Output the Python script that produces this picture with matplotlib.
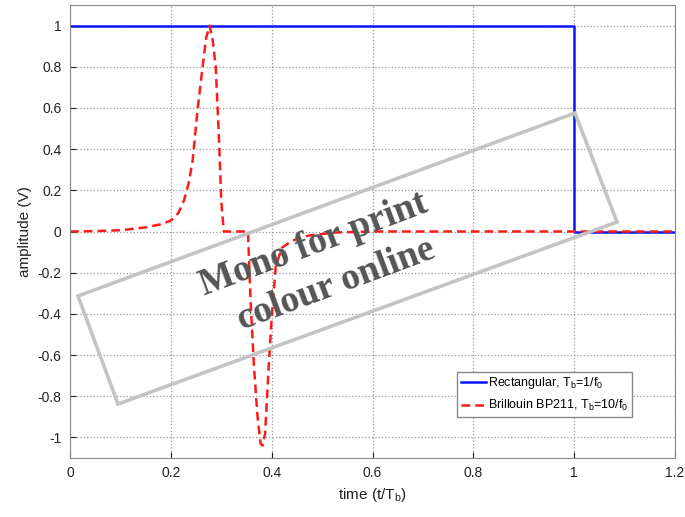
import numpy as np
import matplotlib.pyplot as plt
from matplotlib.patches import Polygon

plt.rcParams['font.family'] = ['Liberation Sans', 'DejaVu Sans']
plt.rcParams['mathtext.fontset'] = 'custom'
plt.rcParams['mathtext.rm'] = 'Liberation Sans'
plt.rcParams['mathtext.it'] = 'Liberation Sans:italic'

# rectangular pulse
rect_t = [0.0, 1.0, 1.0, 1.2]
rect_a = [1.0, 1.0, 0.0, 0.0]

# Brillouin BP211 pulse
bri_t = [0.0, 0.05, 0.10, 0.15, 0.18, 0.20, 0.215, 0.226, 0.235, 0.243, 0.253,
         0.263, 0.270, 0.277, 0.283, 0.289, 0.295, 0.300, 0.305, 0.353, 0.358,
         0.365, 0.372, 0.378, 0.382, 0.387, 0.394, 0.400, 0.408, 0.420, 0.440,
         0.473, 0.525, 0.60, 1.2]
bri_a = [0.0, 0.002, 0.006, 0.02, 0.035, 0.053, 0.09, 0.15, 0.23, 0.34, 0.59,
         0.80, 0.94, 1.0, 0.93, 0.80, 0.48, 0.15, 0.0, 0.0, -0.33,
         -0.66, -0.90, -1.03, -1.04, -0.98, -0.66, -0.42, -0.17, -0.08, -0.045,
         -0.02, -0.005, 0.0, 0.0]

xticks = [0, 0.2, 0.4, 0.6, 0.8, 1, 1.2]
xtick_labels = ['0', '0.2', '0.4', '0.6', '0.8', '1', '1.2']
yticks = [1, 0.8, 0.6, 0.4, 0.2, 0, -0.2, -0.4, -0.6, -0.8, -1]
ytick_labels = ['1', '0.8', '0.6', '0.4', '0.2', '0', '-0.2', '-0.4', '-0.6', '-0.8', '-1']

fig = plt.figure(figsize=(6.85, 5.17), dpi=100)
ax = fig.add_axes([70 / 685, 1 - 458 / 517, 605 / 685, 453 / 517])

ax.plot(rect_t, rect_a, color='#0a14ff', lw=1.8, label=r'Rectangular, T$_{\rm b}$=1/f$_{\rm 0}$')
ax.plot(bri_t, bri_a, color='#ff1a1a', lw=1.8, ls=(0, (3.5, 2)),
        label=r'Brillouin BP211, T$_{\rm b}$=10/f$_{\rm 0}$')

ax.set_xlim(0, 1.2)
ax.set_ylim(-1.1, 1.1)
ax.set_xticks(xticks)
ax.set_xticklabels(xtick_labels)
ax.set_yticks(yticks)
ax.set_yticklabels(ytick_labels)
ax.tick_params(direction='in', labelsize=10, colors='#222222', length=4, pad=6)
ax.grid(True, ls=':', color='#999999', lw=0.9)
for s in ax.spines.values():
    s.set_color('#888888')

ax.set_xlabel(r'time (t/T$_{\rm b}$)', fontsize=11, color='#222222')
ax.set_ylabel('amplitude (V)', fontsize=11, color='#222222')

leg = ax.legend(loc='lower right', bbox_to_anchor=(0.929, 0.0905), fontsize=9,
                fancybox=False, edgecolor='#888888', framealpha=1,
                handlelength=2.0, handletextpad=0.2, borderpad=0.3,
                labelspacing=0.55, borderaxespad=0)
leg.get_frame().set_linewidth(1.0)

# "Mono for print / colour online" stamp
W, H = 685.0, 517.0
corners = [(78, 296), (575, 113), (617, 222), (118, 404)]
poly = Polygon([(x / W, 1 - y / H) for x, y in corners], closed=True, fill=False,
               edgecolor='#c4c4c4', lw=2.6, transform=fig.transFigure)
fig.add_artist(poly)
fig.text(314 / W, 1 - 244 / H, 'Mono for print', rotation=20.5, ha='center', va='center',
         fontsize=27, fontweight='bold', family='Liberation Serif', color='#555555',
         rotation_mode='anchor')
fig.text(336 / W, 1 - 285 / H, 'colour online', rotation=20.5, ha='center', va='center',
         fontsize=27, fontweight='bold', family='Liberation Serif', color='#555555',
         rotation_mode='anchor')

fig.savefig('out.png', dpi=100)
